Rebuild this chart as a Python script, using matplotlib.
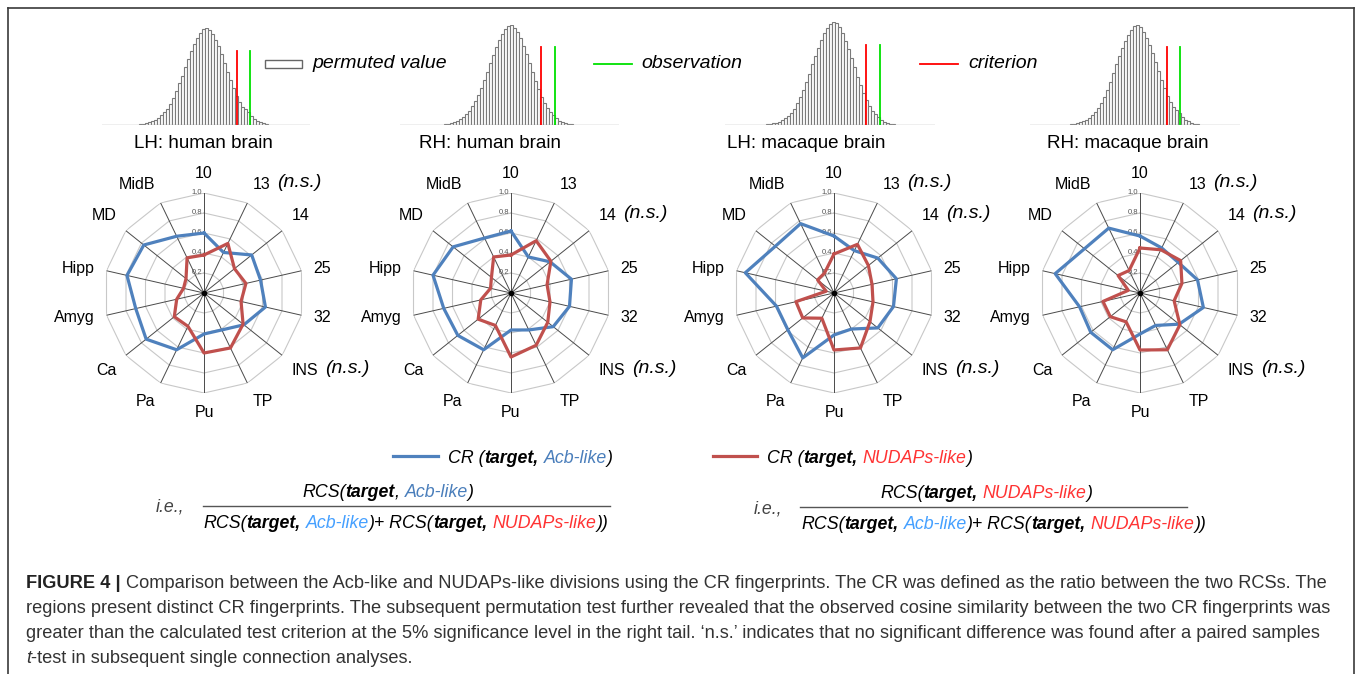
import numpy as np
import matplotlib
matplotlib.use('Agg')
import matplotlib.pyplot as plt
from matplotlib.patches import Rectangle
from matplotlib.lines import Line2D

plt.rcParams['font.family'] = ['Liberation Sans', 'DejaVu Sans']

W, H = 1360, 674

# ---- data ----
regions = ['10', '13', '14', '25', '32', 'INS', 'TP', 'Pu', 'Pa', 'Ca', 'Amyg', 'Hipp', 'MD', 'MidB']
panel_titles = ['LH: human brain', 'RH: human brain', 'LH: macaque brain', 'RH: macaque brain']
ns_regions = [['13', 'INS'], ['14', 'INS'], ['13', '14', 'INS'], ['13', '14', 'INS']]

cr_acb = [
    [0.60, 0.45, 0.61, 0.58, 0.63, 0.51, 0.41, 0.41, 0.63, 0.74, 0.70, 0.79, 0.77, 0.63],
    [0.62, 0.40, 0.50, 0.62, 0.60, 0.54, 0.41, 0.37, 0.63, 0.68, 0.69, 0.80, 0.74, 0.61],
    [0.57, 0.47, 0.56, 0.64, 0.61, 0.56, 0.40, 0.42, 0.72, 0.59, 0.59, 0.91, 0.75, 0.77],
    [0.57, 0.50, 0.49, 0.59, 0.65, 0.50, 0.36, 0.41, 0.63, 0.63, 0.62, 0.87, 0.71, 0.72],
]
cr_nudaps = [
    [0.38, 0.55, 0.39, 0.43, 0.38, 0.50, 0.61, 0.60, 0.37, 0.38, 0.28, 0.21, 0.23, 0.39],
    [0.38, 0.58, 0.51, 0.37, 0.40, 0.47, 0.58, 0.64, 0.36, 0.42, 0.31, 0.21, 0.25, 0.40],
    [0.39, 0.54, 0.44, 0.39, 0.40, 0.46, 0.61, 0.57, 0.28, 0.40, 0.39, 0.08, 0.21, 0.22],
    [0.45, 0.48, 0.52, 0.43, 0.35, 0.51, 0.63, 0.57, 0.32, 0.38, 0.38, 0.12, 0.28, 0.25],
]
r_ticks = [0.2, 0.4, 0.6, 0.8, 1.0]

# permutation distributions (relative frequency per bin)
perm_lh_human = [0.01, 0.01, 0.02, 0.03, 0.04, 0.05, 0.07, 0.10, 0.13, 0.17, 0.22, 0.28, 0.35, 0.43,
                 0.51, 0.60, 0.68, 0.76, 0.84, 0.90, 0.95, 0.99, 1.00, 0.98, 0.94, 0.88, 0.81, 0.73,
                 0.64, 0.55, 0.46, 0.38, 0.30, 0.24, 0.19, 0.16, 0.13, 0.09, 0.06, 0.04, 0.03, 0.02, 0.01]
perm_rh_human = [0.01, 0.01, 0.02, 0.03, 0.04, 0.06, 0.08, 0.11, 0.14, 0.19, 0.24, 0.30, 0.37, 0.45,
                 0.53, 0.62, 0.70, 0.78, 0.85, 0.91, 0.96, 0.99, 1.00, 0.97, 0.93, 0.87, 0.79, 0.71,
                 0.62, 0.53, 0.44, 0.36, 0.28, 0.22, 0.17, 0.13, 0.10, 0.07, 0.04, 0.03, 0.02, 0.01, 0.01]
perm_lh_macaque = [0.01, 0.01, 0.02, 0.02, 0.03, 0.05, 0.07, 0.09, 0.12, 0.16, 0.21, 0.27, 0.34, 0.42,
                   0.50, 0.59, 0.67, 0.75, 0.83, 0.89, 0.94, 0.98, 1.00, 0.99, 0.95, 0.89, 0.82, 0.74,
                   0.65, 0.56, 0.47, 0.39, 0.31, 0.24, 0.18, 0.14, 0.11, 0.08, 0.05, 0.03, 0.02, 0.01, 0.01]
perm_rh_macaque = [0.01, 0.01, 0.02, 0.03, 0.04, 0.05, 0.07, 0.10, 0.13, 0.17, 0.22, 0.28, 0.35, 0.43,
                   0.52, 0.61, 0.69, 0.77, 0.84, 0.90, 0.95, 0.99, 1.00, 0.98, 0.93, 0.87, 0.80, 0.72,
                   0.63, 0.54, 0.45, 0.37, 0.29, 0.23, 0.18, 0.15, 0.12, 0.08, 0.05, 0.04, 0.02, 0.01, 0.01]
perm_values = [perm_lh_human, perm_rh_human, perm_lh_macaque, perm_rh_macaque]
perm_first_bin = [12.7, 15.0, 14.0, 13.7]
criterion_bin = [45.0, 47.0, 47.0, 45.7]
observed_bin = [49.3, 51.7, 51.7, 50.0]
marker_height = [0.76, 0.78, 0.78, 0.78]

caption_lines = [
    [('FIGURE 4 |', 'bold', 'normal', '#222222'),
     (' Comparison between the Acb-like and NUDAPs-like divisions using the CR fingerprints. '
      'The CR was defined as the ratio between the two RCSs. The', 'normal', 'normal', '#333333')],
    [('regions present distinct CR fingerprints. The subsequent permutation test further revealed '
      'that the observed cosine similarity between the two CR fingerprints was', 'normal', 'normal', '#333333')],
    [('greater than the calculated test criterion at the 5% significance level in the right tail. '
      '\u2018n.s.\u2019 indicates that no significant difference was found after a paired samples',
      'normal', 'normal', '#333333')],
    [('t', 'normal', 'italic', '#333333'),
     ('-test in subsequent single connection analyses.', 'normal', 'normal', '#333333')],
]

# ---- colours ----
BLUE = '#4f81bd'
RED = '#c0504d'
ACB_TXT = '#4a7ebb'
ACB_TXT2 = '#45a0ff'
NUD_TXT = '#ff3333'


def fx(x):
    return x / W


def fy(y):
    return 1 - y / H


fig = plt.figure(figsize=(W / 100, H / 100), dpi=100)
renderer = fig.canvas.get_renderer()
PX = fig.dpi / 72


def _measure(txt, size, weight, style):
    t = fig.text(0, 0, txt, fontsize=size, fontweight=weight, fontstyle=style)
    w = t.get_window_extent(renderer).width
    t.remove()
    return w


def pieces_width(pieces, size):
    total = 0
    for txt, weight, style, color in pieces:
        lead = len(txt) - len(txt.lstrip(' '))
        total += lead * 0.278 * size * PX + _measure(txt.lstrip(' '), size, weight, style)
    return total


def put_pieces(x, y, pieces, size):
    # x, y: pixel position (from top-left) of the baseline start
    cursor = 0
    for txt, weight, style, color in pieces:
        lead = len(txt) - len(txt.lstrip(' '))
        cursor += lead * 0.278 * size * PX
        t = fig.text(fx(x + cursor), fy(y), txt.lstrip(' '), fontsize=size, fontweight=weight,
                     fontstyle=style, color=color, ha='left', va='baseline')
        cursor += t.get_window_extent(renderer).width
    return cursor


# ---- frame ----
for xs, ys in [([8, 8], [8, 674]), ([8, 1354], [8, 8]), ([1354, 1354], [8, 674])]:
    fig.add_artist(Line2D([fx(v) for v in xs], [fy(v) for v in ys], transform=fig.transFigure,
                          color='#3a3a3a', lw=1.2))

# ---- permutation histograms ----
hist_px = [(102, 310, 28), (400, 619, 25), (725, 935, 22), (1030, 1240, 25)]
for i, (left, right, top) in enumerate(hist_px):
    ax = fig.add_axes([fx(left), fy(125), (right - left) / W, (125 - top) / H])
    vals = perm_values[i]
    pos = perm_first_bin[i] + np.arange(len(vals))
    ax.bar(pos, vals, width=1.0, facecolor='white', edgecolor='#7a7a7a', linewidth=0.8)
    ax.axhline(0, color='#b0b0b0', lw=1.0)
    ax.plot([criterion_bin[i]] * 2, [0, marker_height[i]], color='#ff0000', lw=1.3)
    ax.plot([observed_bin[i]] * 2, [0, marker_height[i]], color='#00e000', lw=1.3)
    ax.set_xlim(0, (right - left) / 3)
    ax.set_ylim(0, 1.0)
    ax.axis('off')

# histogram legend
fig.add_artist(Rectangle((fx(265), fy(68)), 37 / W, 8 / H, transform=fig.transFigure,
                         facecolor='white', edgecolor='#666666', lw=1.0))
fig.text(fx(312), fy(64), 'permuted value', fontsize=14, style='italic', va='center')
fig.add_artist(Line2D([fx(594), fx(632)], [fy(64), fy(64)], transform=fig.transFigure,
                      color='#00e000', lw=1.3))
fig.text(fx(641), fy(64), 'observation', fontsize=14, style='italic', va='center')
fig.add_artist(Line2D([fx(920), fx(958)], [fy(64), fy(64)], transform=fig.transFigure,
                      color='#ff0000', lw=1.3))
fig.text(fx(968), fy(64), 'criterion', fontsize=14, style='italic', va='center')

# ---- radar charts ----
title_x = [203, 490, 806, 1128]
radar_cx = [204, 511, 834, 1140]
cy, R = 293, 100
theta = np.linspace(0, 2 * np.pi, len(regions), endpoint=False)
theta_c = np.append(theta, theta[0])

for i in range(4):
    fig.text(fx(title_x[i]), fy(143), panel_titles[i], fontsize=13.5, ha='center', va='center')
    cx = radar_cx[i]
    ax = fig.add_axes([fx(cx - R), fy(cy + R), 2 * R / W, 2 * R / H], projection='polar')
    ax.set_theta_zero_location('N')
    ax.set_theta_direction(-1)
    ax.set_ylim(0, 1)
    ax.axis('off')
    for r in r_ticks:
        ax.plot(theta_c, [r] * len(theta_c), color='#c8c8c8', lw=0.8, zorder=1)
        ax.annotate(f'{r:.1f}', xy=(0, r), xytext=(-1.5, 0), textcoords='offset points',
                    ha='right', va='center', fontsize=5.5, color='#555555', zorder=2)
    for t in theta:
        ax.plot([t, t], [0, 1], color='#4a4a4a', lw=0.7, zorder=1)
    ax.plot(0, 0, 'o', ms=3, color='black', zorder=5)
    ax.plot(theta_c, cr_acb[i] + cr_acb[i][:1], color=BLUE, lw=2.3, zorder=3)
    ax.plot(theta_c, cr_nudaps[i] + cr_nudaps[i][:1], color=RED, lw=2.3, zorder=4)
    for t, name in zip(theta, regions):
        s, c = np.sin(t), np.cos(t)
        ha = 'left' if s > 0.05 else ('right' if s < -0.05 else 'center')
        va = 'bottom' if c > 0.5 else ('top' if c < -0.5 else 'center')
        lab = ax.text(t, 1.12, name, fontsize=11.5, ha=ha, va=va, clip_on=False)
        if name in ns_regions[i]:
            ax.annotate('(n.s.)', xy=(1, 0.5), xycoords=lab, xytext=(5, 1.5),
                        textcoords='offset points', ha='left', va='center',
                        fontsize=14, style='italic')

# ---- series legend and CR definition ----
FS = 12.8
fig.add_artist(Line2D([fx(393), fx(438)], [fy(456), fy(456)], transform=fig.transFigure,
                      color=BLUE, lw=2.3))
put_pieces(448, 463, [('CR (', 'normal', 'italic', 'black'), ('target,', 'bold', 'italic', 'black'),
                      (' Acb-like', 'normal', 'italic', ACB_TXT), (')', 'normal', 'italic', 'black')], FS)
fig.add_artist(Line2D([fx(713), fx(757)], [fy(456), fy(456)], transform=fig.transFigure,
                      color=RED, lw=2.3))
put_pieces(767, 463, [('CR (', 'normal', 'italic', 'black'), ('target,', 'bold', 'italic', 'black'),
                      (' NUDAPs-like', 'normal', 'italic', NUD_TXT), (')', 'normal', 'italic', 'black')], FS)

denominator = [('RCS(', 'normal', 'italic', 'black'), ('target,', 'bold', 'italic', 'black'),
               (' Acb-like', 'normal', 'italic', ACB_TXT2), (')+ RCS(', 'normal', 'italic', 'black'),
               ('target,', 'bold', 'italic', 'black'), (' NUDAPs-like', 'normal', 'italic', NUD_TXT),
               ('))', 'normal', 'italic', 'black')]

# Acb-like fraction
put_pieces(156, 512, [('i.e.,', 'normal', 'italic', '#444444')], FS)
put_pieces(302, 497, [('RCS(', 'normal', 'italic', 'black'), ('target', 'bold', 'italic', 'black'),
                      (', ', 'normal', 'italic', 'black'), ('Acb-like', 'normal', 'italic', ACB_TXT),
                      (')', 'normal', 'italic', 'black')], FS)
fig.add_artist(Line2D([fx(203), fx(610)], [fy(506), fy(506)], transform=fig.transFigure,
                      color='#555555', lw=1.0))
put_pieces(203, 528, denominator, FS)

# NUDAPs-like fraction
put_pieces(754, 513, [('i.e.,', 'normal', 'italic', '#444444')], FS)
put_pieces(880, 498, [('RCS(', 'normal', 'italic', 'black'), ('target,', 'bold', 'italic', 'black'),
                      (' NUDAPs-like', 'normal', 'italic', NUD_TXT), (')', 'normal', 'italic', 'black')], FS)
fig.add_artist(Line2D([fx(800), fx(1187)], [fy(507), fy(507)], transform=fig.transFigure,
                      color='#555555', lw=1.0))
put_pieces(801, 529, denominator, FS)

# ---- caption ----
cap_size = 12 * 1299 / pieces_width(caption_lines[0], 12)
for k, line in enumerate(caption_lines):
    put_pieces(26, 588 + 25 * k, line, cap_size)

fig.savefig('out.png', dpi=100)
